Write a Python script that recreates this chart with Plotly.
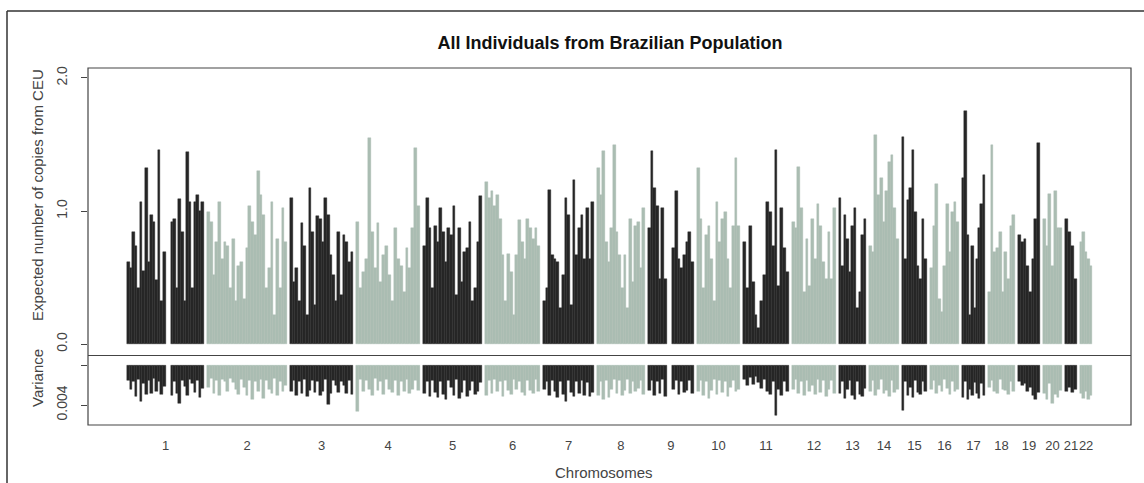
import plotly.graph_objects as go

# ---------------- data ----------------
chrom_labels = [str(i) for i in range(1, 23)]
# plotted (SNP-covered) span of each chromosome, Mb
chrom_span_mb = [230, 239, 188, 191, 176, 164, 152, 143, 137, 129, 137,
                 131, 81, 89, 75, 87, 68, 81, 65, 57, 36, 36]
GAP_MB = 9

# expected number of copies from CEU (None = no markers, e.g. centromere)
cop_01 = [0.62, 0.57, 0.84, 0.74, 0.42, 1.07, 0.55, 1.32, 0.62, 0.97, 0.92, 0.48, 1.46, 0.32, 0.69,
          None, None,
          0.92, 0.94, 0.42, 1.09, 0.84, 0.32, 1.44, 1.07, 0.42, 1.07, 1.12, 1.00, 1.07]
cop_02 = [0.99, 0.92, 0.52, 0.77, 1.07, 0.64, 0.77, 0.74, 0.42, 0.79, 0.32, 0.59, 0.62, 0.34, 0.72,
          1.04, 0.92, 0.82, 1.30, 1.12, 0.97, 0.42, 0.57, 1.07, 0.22, 0.79, 0.42, 1.02, 0.77]
cop_03 = [1.10, 0.47, 0.57, 0.32, 0.91, 0.74, 0.22, 1.17, 0.84, 0.29, 0.96, 0.94, 0.77, 1.10, 0.97,
          0.67, 0.52, 0.32, 0.84, 0.37, 0.82, 0.77, 0.62, 0.69]
cop_04 = [0.92, 0.42, 0.54, 0.64, 1.55, 0.84, 0.57, 0.91, 0.47, 0.67, 0.74, 0.52, 0.32, 0.87, 0.64,
          0.59, 0.39, 0.72, 0.57, 0.87, 1.47, 1.04]
cop_05 = [0.74, 1.10, 0.87, 0.42, 0.89, 0.77, 1.02, 0.84, 0.62, 0.87, 0.82, 1.04, 0.37, 0.87, 0.47,
          0.69, 0.72, 0.92, 0.32, 0.42, 0.77, 1.11]
cop_06 = [1.22, 1.10, 1.15, 1.04, 1.12, 0.94, 0.67, 0.32, 0.68, 0.54, 0.22, 0.67, 0.93, 0.77, 0.64,
          0.94, 0.87, 0.79, 0.87, 0.74]
cop_07 = [0.32, 0.42, 1.16, 0.67, 0.64, 0.62, 0.27, 0.52, 1.10, 0.97, 0.29, 1.23, 0.67, 0.87, 0.97,
          0.64, 1.02, 0.64, 1.07]
cop_08 = [1.32, 1.12, 1.45, 0.77, 0.62, 0.87, 1.50, 0.84, 0.67, 0.42, 0.67, 0.27, 0.94, 0.47, 0.89,
          0.92, 0.57, 1.02]
cop_09 = [0.87, 1.45, 1.17, 1.04, 0.49, 1.02, 0.49, None, None, 0.72, 1.15, 0.64, 0.57, 0.67, 0.77,
          0.84, 0.62]
cop_10 = [1.32, 0.94, 0.42, 0.82, 0.89, 0.64, 0.32, 1.07, 0.77, 0.94, 0.99, 0.64, 0.42, 0.89, 1.40, 0.89]
cop_11 = [0.77, 0.42, 0.89, 0.47, 0.22, 0.12, 0.32, 0.52, 1.07, 0.99, 0.74, 1.46, 0.44, 1.02, 0.72, 0.54]
cop_12 = [0.92, 0.87, 1.33, 1.02, 0.39, 0.79, 0.44, 0.94, 0.64, 1.05, 0.89, 0.62, 0.49, 0.84, 0.49, 1.02]
cop_13 = [1.10, 0.59, 0.97, 0.79, 0.54, 0.89, 1.02, 0.27, 0.39, 0.82, 0.94]
cop_14 = [0.74, 0.69, 1.57, 1.12, 1.25, 0.92, 1.15, 1.37, 1.42, 1.02, 0.79]
cop_15 = [1.56, 0.64, 1.08, 1.17, 1.46, 0.99, 0.59, 0.49, 0.94, 0.64]
cop_16 = [0.57, 0.89, 1.20, 0.34, 0.24, 0.59, 1.05, 0.69, 0.99, 1.07, 0.92]
cop_17 = [1.25, 1.75, 0.82, 0.22, 0.74, 0.27, 0.64, 0.87, 1.05, 1.27]
cop_18 = [0.39, 1.50, 0.69, 0.72, 0.84, 0.39, 0.69, 0.49, 0.89, 0.97]
cop_19 = [0.82, 0.77, 0.79, 0.59, 0.39, 0.64, 0.94, 1.51]
cop_20 = [0.94, 0.74, 1.13, 0.59, 1.15, 0.87, 0.87]
cop_21 = [0.94, 0.84, 0.74, 0.49]
cop_22 = [0.77, 0.84, 0.69, 0.64, 0.59]

# variance (x 0.001)
var_01 = [1.5, 2.4, 1.6, 3.1, 1.4, 3.6, 1.8, 2.9, 1.5, 2.8, 1.3, 2.6, 1.6, 2.9, 2.1,
          None, None,
          3.0, 1.6, 2.8, 3.8, 1.5, 2.1, 3.0, 1.4, 1.8, 2.7, 1.5, 3.2, 2.3]
var_02 = [2.2, 1.3, 2.8, 1.5, 3.0, 1.4, 1.6, 2.6, 1.3, 1.7, 2.4, 2.9, 1.4, 2.2, 3.0,
          1.5, 3.4, 1.6, 2.6, 1.4, 3.3, 1.5, 2.4, 2.8, 1.3, 3.0, 1.6, 2.6, 2.0]
var_03 = [2.6, 1.5, 3.0, 1.6, 2.8, 1.4, 3.1, 2.5, 1.5, 2.7, 1.6, 3.0, 2.6, 1.4, 3.9,
          2.8, 1.5, 2.0, 2.7, 1.6, 2.0, 2.8, 1.5, 2.9]
var_04 = [4.6, 1.4, 2.6, 1.5, 2.4, 3.0, 1.3, 2.5, 1.6, 2.9, 1.4, 2.4, 2.7, 1.5, 3.0,
          1.6, 2.6, 1.4, 2.8, 2.4, 1.5, 2.5]
var_05 = [2.8, 1.6, 3.1, 1.5, 2.7, 3.2, 1.6, 2.9, 3.4, 1.5, 2.2, 3.0, 1.4, 3.3, 2.7,
          1.5, 3.1, 2.5, 1.6, 2.9, 2.6, 1.7]
var_06 = [3.0, 1.5, 2.8, 1.4, 2.6, 1.6, 3.1, 1.5, 2.5, 2.9, 1.4, 2.4, 1.6, 2.7, 3.0,
          1.5, 2.5, 2.8, 1.4, 2.6]
var_07 = [2.4, 1.6, 3.0, 1.5, 2.6, 3.2, 1.6, 2.9, 3.6, 1.5, 2.7, 3.1, 1.6, 2.8, 1.5,
          3.0, 1.7, 3.1, 2.7]
var_08 = [3.0, 1.6, 3.4, 1.5, 3.2, 2.4, 1.4, 2.8, 1.5, 3.0, 2.5, 1.4, 2.8, 1.6, 2.6, 2.3, 1.5, 2.9]
var_09 = [2.5, 1.5, 3.0, 1.6, 2.8, 1.4, 3.1, None, None, 2.4, 1.5, 2.9, 1.6, 2.7, 2.5, 1.5, 2.8]
var_10 = [2.6, 1.5, 3.0, 1.6, 3.3, 2.5, 1.4, 2.9, 1.5, 2.7, 1.6, 3.1, 2.2, 1.5, 2.6, 2.4]
var_11 = [1.4, 2.0, 1.2, 1.9, 1.1, 1.7, 2.3, 1.4, 2.6, 2.9, 1.6, 5.0, 2.4, 3.0, 1.6, 2.6]
var_12 = [2.4, 1.4, 2.8, 1.6, 3.0, 1.5, 2.6, 2.0, 2.9, 1.4, 2.7, 1.5, 3.1, 2.4, 1.5, 2.8]
var_13 = [2.8, 1.6, 3.3, 2.4, 1.5, 3.0, 3.4, 1.6, 2.9, 3.1, 2.3]
var_14 = [2.6, 1.5, 3.0, 2.4, 1.4, 2.8, 2.5, 3.1, 1.5, 2.7, 2.4]
var_15 = [4.5, 1.6, 3.0, 2.2, 3.2, 1.5, 2.7, 2.9, 1.6, 2.6]
var_16 = [2.4, 1.5, 2.8, 2.0, 2.6, 1.4, 2.3, 2.9, 1.6, 2.6, 2.4]
var_17 = [3.2, 1.6, 3.4, 2.4, 3.0, 1.7, 2.8, 3.3, 1.8, 3.0]
var_18 = [2.2, 1.5, 2.6, 2.8, 1.4, 2.4, 2.5, 2.9, 1.6, 2.6]
var_19 = [1.6, 2.0, 1.8, 2.6, 2.2, 3.0, 3.4, 2.7]
var_20 = [2.8, 3.4, 1.8, 3.8, 2.9, 3.2, 2.5]
var_21 = [2.6, 2.2, 2.7, 2.4]
var_22 = [2.8, 3.3, 2.6, 3.4, 3.0]

copies = [cop_01, cop_02, cop_03, cop_04, cop_05, cop_06, cop_07, cop_08, cop_09, cop_10, cop_11,
          cop_12, cop_13, cop_14, cop_15, cop_16, cop_17, cop_18, cop_19, cop_20, cop_21, cop_22]
variances = [var_01, var_02, var_03, var_04, var_05, var_06, var_07, var_08, var_09, var_10, var_11,
             var_12, var_13, var_14, var_15, var_16, var_17, var_18, var_19, var_20, var_21, var_22]

# ---------------- styling ----------------
DARK = "#262626"
LIGHT = "#aabdb2"
FONT = "Liberation Sans, Arial, sans-serif"
TXT = "#3a3a3a"

xc, yc, wc, cc = [], [], [], []
xv, yv, wv, cv_ = [], [], [], []
centers = []
start = 0.0
for i, (span, cvals, vvals) in enumerate(zip(chrom_span_mb, copies, variances)):
    col = DARK if i % 2 == 0 else LIGHT
    w = span / len(cvals)
    for k, v in enumerate(cvals):
        if v is None:
            continue
        xc.append(start + (k + 0.5) * w); yc.append(v); wc.append(w); cc.append(col)
    w2 = span / len(vvals)
    for k, v in enumerate(vvals):
        if v is None:
            continue
        xv.append(start + (k + 0.5) * w2); yv.append(v / 1000.0); wv.append(w2); cv_.append(col)
    centers.append(start + span / 2.0)
    start += span + GAP_MB

fig = go.Figure()
fig.add_trace(go.Bar(x=xc, y=yc, width=wc, xaxis="x", yaxis="y",
                     marker=dict(color=cc, line=dict(color=cc, width=0.4)),
                     hoverinfo="skip"))
fig.add_trace(go.Bar(x=xv, y=yv, width=wv, xaxis="x", yaxis="y2",
                     marker=dict(color=cv_, line=dict(color=cv_, width=0.4)),
                     hoverinfo="skip"))

W, H = 1144, 483
L_M, R_M, T_M, B_M = 88, 13, 68, 58
plot_h = H - T_M - B_M
plot_w = W - L_M - R_M
div_frac = (H - B_M - 355.5) / plot_h

fig.update_layout(
    width=W, height=H,
    margin=dict(l=L_M, r=R_M, t=T_M, b=B_M),
    paper_bgcolor="white", plot_bgcolor="white",
    showlegend=False, bargap=0, barmode="overlay",
    font=dict(family=FONT, color=TXT),
    title=dict(text="<b>All Individuals from Brazilian Population</b>",
               font=dict(family=FONT, size=18, color="#111"),
               x=(610 - L_M) / plot_w, xref="paper", xanchor="center",
               y=1 - 43 / H, yref="container", yanchor="middle"),
    xaxis=dict(domain=[0, 1], range=[-116.4, 2997], anchor="y2",
               tickvals=centers, ticktext=chrom_labels, tickangle=0,
               ticks="outside", ticklen=8, tickcolor="rgba(0,0,0,0)",
               tickfont=dict(size=13, color="#444"),
               showgrid=False, zeroline=False, showline=False, fixedrange=True),
    yaxis=dict(domain=[div_frac, 1], range=[-0.086, 2.075], anchor="x",
               tickvals=[0, 1, 2], ticktext=["0.0", "1.0", "2.0"], tickangle=-90,
               ticks="outside", ticklen=6, tickcolor="#444",
               tickfont=dict(size=14, color="#444"), ticklabelstandoff=8,
               showgrid=False, zeroline=False, showline=False),
    yaxis2=dict(domain=[0, div_frac], range=[0.006, -0.00095], anchor="x",
                tickvals=[0, 0.004], ticktext=["", "0.004"], tickangle=-90,
                ticks="outside", ticklen=6, tickcolor="#444",
                tickfont=dict(size=14, color="#444"), ticklabelstandoff=8,
                showgrid=False, zeroline=False, showline=False),
)

# plot frame, panel divider, outer page border
fig.add_shape(type="rect", xref="paper", yref="paper", x0=0, x1=1, y0=0, y1=1,
              line=dict(color="#444", width=1.2))
fig.add_shape(type="line", xref="paper", yref="paper", x0=0, x1=1, y0=div_frac, y1=div_frac,
              line=dict(color="#444", width=1.2))
fig.add_shape(type="line", xref="paper", yref="paper",
              x0=(7 - L_M) / plot_w, x1=(1160 - L_M) / plot_w,
              y0=(H - B_M - 11) / plot_h, y1=(H - B_M - 11) / plot_h,
              line=dict(color="#333", width=1.5))
fig.add_shape(type="line", xref="paper", yref="paper",
              x0=(7 - L_M) / plot_w, x1=(7 - L_M) / plot_w,
              y0=(H - B_M - 11) / plot_h, y1=(H - B_M - 500) / plot_h,
              line=dict(color="#333", width=1.5))

def py(px):
    return (H - B_M - px) / plot_h

def pxx(px):
    return (px - L_M) / plot_w

fig.add_annotation(text="Expected number of copies from CEU", textangle=-90,
                   x=pxx(37), y=py(195), xref="paper", yref="paper",
                   xanchor="center", yanchor="middle", showarrow=False,
                   font=dict(size=15, color="#444"))
fig.add_annotation(text="Variance", textangle=-90,
                   x=pxx(37), y=py(378), xref="paper", yref="paper",
                   xanchor="center", yanchor="middle", showarrow=False,
                   font=dict(size=15, color="#444"))
fig.add_annotation(text="Chromosomes", x=pxx(604), y=py(472), xref="paper", yref="paper",
                   xanchor="center", yanchor="middle", showarrow=False,
                   font=dict(size=15, color="#444"))

fig.write_html("out.html")
